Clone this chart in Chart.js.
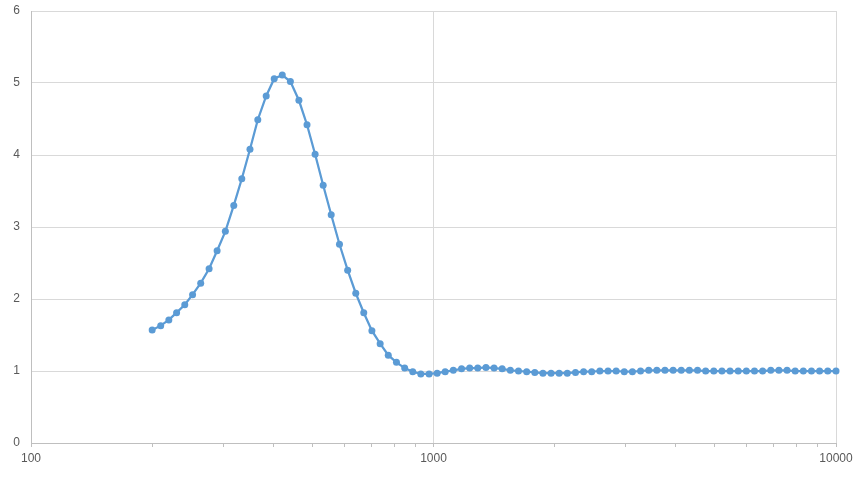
<!DOCTYPE html>
<html>
<head>
<meta charset="utf-8">
<script src="https://cdn.jsdelivr.net/npm/chart.js@4"></script>
<style>
  html, body { margin: 0; padding: 0; background: #ffffff; }
  #wrap { width: 865px; height: 477px; }
</style>
</head>
<body>
<div id="wrap"><canvas id="chart" width="865" height="477"></canvas></div>
<script>
// --- data ---
const xValues = [200, 210, 220, 230, 241, 252, 264, 277, 290, 304, 319, 334, 350, 366, 384, 402, 421, 441, 463, 485,
    508, 532, 557, 584, 612, 641, 671, 703, 737, 772, 809, 848, 888, 930, 975, 1021, 1069, 1120, 1174, 1230,
    1288, 1350, 1414, 1481, 1552, 1626, 1704, 1785, 1870, 1959, 2052, 2150, 2253, 2360, 2472, 2590, 2714, 2843, 2978, 3120,
    3269, 3425, 3588, 3759, 3938, 4126, 4322, 4528, 4744, 4970, 5207, 5455, 5715, 5988, 6273, 6572, 6885, 7213, 7557, 7917,
    8295, 8690, 9104, 9538, 10000];
const yValues = [1.57, 1.63, 1.71, 1.81, 1.92, 2.06, 2.22, 2.42, 2.67, 2.94, 3.30, 3.67, 4.08, 4.49, 4.82, 5.06, 5.11, 5.02, 4.76, 4.42,
    4.01, 3.58, 3.17, 2.76, 2.40, 2.08, 1.81, 1.56, 1.38, 1.22, 1.12, 1.04, 0.99, 0.96, 0.96, 0.97, 0.99, 1.01, 1.03, 1.04,
    1.04, 1.05, 1.04, 1.03, 1.01, 1.00, 0.99, 0.98, 0.97, 0.97, 0.97, 0.97, 0.98, 0.99, 0.99, 1.00, 1.00, 1.00, 0.99, 0.99,
    1.00, 1.01, 1.01, 1.01, 1.01, 1.01, 1.01, 1.01, 1.00, 1.00, 1.00, 1.00, 1.00, 1.00, 1.00, 1.00, 1.01, 1.01, 1.01, 1.00,
    1.00, 1.00, 1.00, 1.00, 1.00];
const xMajorTicks = [100, 1000, 10000];
const xMinorTicks = [200, 300, 400, 500, 600, 700, 800, 900, 2000, 3000, 4000, 5000, 6000, 7000, 8000, 9000];
const yTicks = [0, 1, 2, 3, 4, 5, 6];

const points = xValues.map((x, i) => ({ x: x, y: yValues[i] }));
const labelFont = { family: "'Liberation Sans', Arial, sans-serif", size: 12 };

const ctx = document.getElementById('chart').getContext('2d');
new Chart(ctx, {
    type: 'scatter',
    data: {
        datasets: [{
            data: points,
            showLine: true,
            borderColor: '#5B9BD5',
            backgroundColor: '#5B9BD5',
            borderWidth: 2.25,
            pointRadius: 3.5,
            pointHoverRadius: 3.5,
            pointBorderWidth: 0,
            pointBackgroundColor: '#5B9BD5',
            tension: 0,
            clip: false
        }]
    },
    options: {
        responsive: false,
        animation: false,
        layout: { padding: { top: 11, right: 29, left: 0, bottom: 0 } },
        plugins: {
            legend: { display: false },
            tooltip: { enabled: false }
        },
        scales: {
            x: {
                type: 'logarithmic',
                min: 100,
                max: 10000,
                afterBuildTicks: scale => {
                    const all = xMajorTicks.concat(xMinorTicks).sort((a, b) => a - b);
                    scale.ticks = all.map(v => ({ value: v, major: xMajorTicks.includes(v) }));
                },
                afterFit: scale => {
                    scale.height = 34;
                    scale.paddingLeft = 0;
                    scale.paddingRight = 0;
                },
                ticks: {
                    autoSkip: false,
                    maxRotation: 0,
                    color: '#595959',
                    font: labelFont,
                    padding: 4,
                    callback: v => xMajorTicks.includes(v) ? String(v) : ''
                },
                grid: {
                    color: c => (c.tick && xMajorTicks.includes(c.tick.value)) ? '#D9D9D9' : 'rgba(0,0,0,0)',
                    tickColor: '#BFBFBF',
                    tickLength: 4,
                    lineWidth: 1
                },
                border: { color: '#BFBFBF', width: 1 }
            },
            y: {
                min: 0,
                max: 6,
                afterBuildTicks: scale => {
                    scale.ticks = yTicks.map(v => ({ value: v }));
                },
                afterFit: scale => {
                    scale.width = 31;
                    scale.paddingTop = 0;
                    scale.paddingBottom = 0;
                },
                ticks: {
                    color: '#595959',
                    font: labelFont,
                    padding: 11
                },
                grid: {
                    color: '#D9D9D9',
                    drawTicks: false,
                    lineWidth: 1
                },
                border: { color: '#BFBFBF', width: 1 }
            }
        }
    }
});
</script>
</body>
</html>
